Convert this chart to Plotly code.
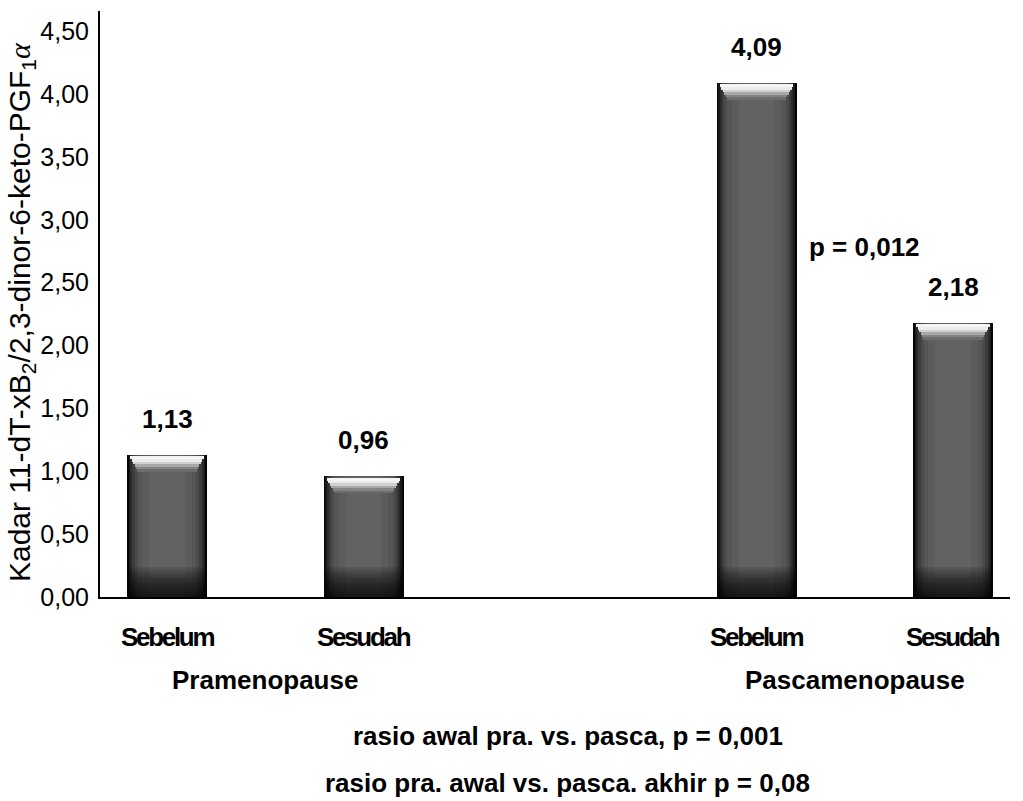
import plotly.graph_objects as go

# Data
groups = ["Pramenopause", "Pascamenopause"]
categories = ["Sebelum", "Sesudah"]
values = [[1.13, 0.96], [4.09, 2.18]]
value_labels = [["1,13", "0,96"], ["4,09", "2,18"]]
p_within = "p = 0,012"
notes = ["rasio awal pra. vs. pasca, p = 0,001",
         "rasio pra. awal vs. pasca. akhir p = 0,08"]
y_ticks = [0, 0.5, 1.0, 1.5, 2.0, 2.5, 3.0, 3.5, 4.0, 4.5]

# slot of each bar on the numeric x axis (one empty slot between the groups)
xs, ys, labs, cats = [], [], [], []
for gi, g in enumerate(groups):
    for ci, c in enumerate(categories):
        xs.append(gi * 3 + ci)
        ys.append(values[gi][ci])
        labs.append(value_labels[gi][ci])
        cats.append(c)

BAR_W = 0.407
n = len(ys)
fig = go.Figure()


def layer(y, width, color, base=None):
    fig.add_trace(go.Bar(x=xs, y=y, base=base, width=width,
                         marker=dict(color=color, line_width=0),
                         hoverinfo="skip", showlegend=False))


# bar body: nested layers shade from black rims to a grey core
for w, col in [(BAR_W, "#050505"), (0.39, "#1a1a1a"), (0.375, "#2c2c2c"),
               (0.355, "#3d3d3d"), (0.33, "#4b4b4b"), (0.30, "#555555"),
               (0.25, "#5c5c5c"), (0.18, "#626262")]:
    layer(ys, w, col)

# darker foot of each bar, built from thin translucent bands
for k in range(1, 13):
    layer([0.02 * k] * n, 0.39, "rgba(0,0,0,0.1)", base=[0] * n)

# bevelled glossy cap: bright at the top edge, fading to the body grey
cap = [(0.012, 0.035, 0.375, "#f5f5f5"), (0.035, 0.055, 0.36, "#ebebeb"),
       (0.055, 0.075, 0.345, "#d0d0d0"), (0.075, 0.095, 0.33, "#a8a8a8"),
       (0.095, 0.115, 0.315, "#858585"), (0.115, 0.135, 0.305, "#6c6c6c")]
for top, bottom, w, col in cap:
    layer([bottom - top] * n, w, col, base=[v - bottom for v in ys])

sans = "Liberation Sans, Arial, sans-serif"
# value labels above the bars
for x, v, t in zip(xs, ys, labs):
    fig.add_annotation(x=x, y=v, text=f"<b>{t}</b>", showarrow=False,
                       yanchor="bottom", yshift=19,
                       font=dict(family=sans, size=26, color="black"))

# category and group labels under the axis
for x, c in zip(xs, cats):
    fig.add_annotation(x=x, y=0, yref="paper",
                       text=f"<span style='letter-spacing:-2.3px'><b>{c}</b></span>",
                       showarrow=False, yanchor="middle", yshift=-40,
                       font=dict(family=sans, size=26, color="black"))
for gi, g in enumerate(groups):
    fig.add_annotation(x=gi * 3 + 0.5, y=0, yref="paper", text=f"<b>{g}</b>",
                       showarrow=False, yanchor="middle", yshift=-83,
                       font=dict(family=sans, size=26, color="black"))

# within-group test result
fig.add_annotation(x=3.257, y=2.78, text=f"<b>{p_within}</b>", showarrow=False,
                   xanchor="left", yanchor="middle",
                   font=dict(family=sans, size=26, color="black"))

# notes under the chart
for i, t in enumerate(notes):
    fig.add_annotation(x=0.514, xref="paper", y=0, yref="paper", text=f"<b>{t}</b>",
                       showarrow=False, yanchor="middle", yshift=-139 - 47 * i,
                       font=dict(family=sans, size=26, color="black"))

# y-axis title
fig.add_annotation(x=-0.087, xref="paper", y=0.486, yref="paper", textangle=-90,
                   text="Kadar 11-dT-xB<sub>2</sub>/2,3-dinor-6-keto-PGF<sub>1</sub>"
                        "<span style='font-family:Liberation Serif'><i>α</i></span>",
                   showarrow=False, xanchor="center", yanchor="middle",
                   font=dict(family=sans, size=30, color="black"))

fig.update_layout(
    width=1023, height=801,
    margin=dict(l=100, r=13, t=11, b=204),
    plot_bgcolor="white", paper_bgcolor="white",
    barmode="overlay", bargap=0,
    separators=",.",
    showlegend=False,
    font=dict(family=sans, color="black"),
)
fig.update_xaxes(range=[-0.341, 4.29], showline=True, linecolor="black", linewidth=2,
                 showticklabels=False, ticks="", showgrid=False, zeroline=False)
fig.update_yaxes(range=[0, 4.66], tickvals=y_ticks, tickformat=".2f",
                 showline=True, linecolor="black", linewidth=2, ticks="",
                 showgrid=False, zeroline=False, ticklabelstandoff=4,
                 tickfont=dict(family=sans, size=25, color="black"))

fig.write_html("out.html")
